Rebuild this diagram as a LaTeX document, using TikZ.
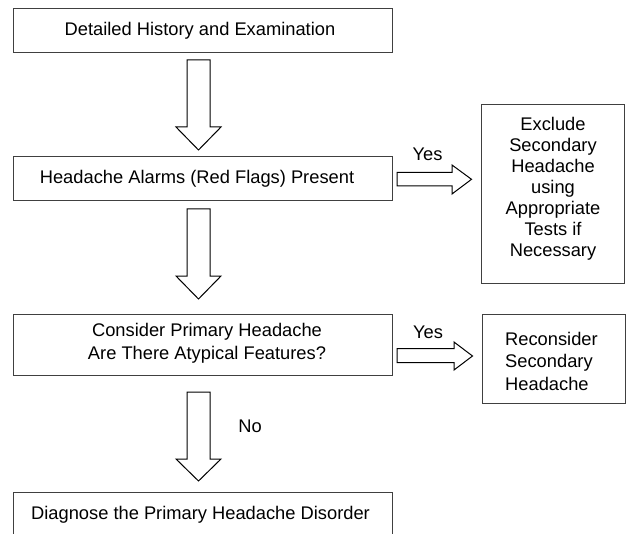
\documentclass[tikz,border=0pt]{standalone}
\usepackage{fontspec}
\setmainfont{Liberation Sans}
\begin{document}
\begin{tikzpicture}[x=1pt,y=-1pt,
  box/.style={draw=black!75,line width=1pt,rectangle,inner sep=0pt},
  txt/.style={inner sep=0pt,font=\fontsize{18.3}{21}\selectfont,align=center},
  blockarrow/.style={draw=black,line width=1pt,fill=white,line join=miter}]
\useasboundingbox (0,0) rectangle (628,534);
\clip (0,0) rectangle (628,534);
% boxes
\node[box,minimum width=378.5,minimum height=44] (b1) at (202.75,31) {};
\node[box,minimum width=378.5,minimum height=44] (b2) at (202.75,179) {};
\node[box,minimum width=143,minimum height=178] (b3) at (552.5,194) {};
\node[box,minimum width=378.5,minimum height=61] (b4) at (202.75,344.5) {};
\node[box,minimum width=143,minimum height=89] (b5) at (553.5,358.5) {};
\node[box,minimum width=378.5,minimum height=60] (b6) at (202.75,522) {};
% texts
\node[txt] (t1) at (200,31) {Detailed History and Examination};
\node[txt] (t2) at (197,179) {Headache Alarms (Red Flags) Present};
\node[txt,font=\fontsize{18.3}{21}\selectfont] (t3) at (553,189) {Exclude\\Secondary\\Headache\\using\\Appropriate\\Tests if\\Necessary};
\node[txt,font=\fontsize{18.3}{23}\selectfont] (t4) at (207,343.5) {Consider Primary Headache\\Are There Atypical Features?};
\node[txt,align=left,anchor=west,font=\fontsize{18.3}{22.5}\selectfont] (t5) at (505,361) {Reconsider\\Secondary\\Headache};
\node[txt] (t6) at (200.5,515) {Diagnose the Primary Headache Disorder};
% labels
\node[txt] (y1) at (427.5,154) {Yes};
\node[txt] (y2) at (428,332) {Yes};
\node[txt] (n1) at (250,426) {No};
% down block arrows
\draw[blockarrow] (187,60) -- (210,60) -- (210,127) -- (221,127) -- (198.5,150) -- (176,127) -- (187,127) -- cycle;
\draw[blockarrow] (187,209) -- (210,209) -- (210,276) -- (221,276) -- (198.5,299) -- (176,276) -- (187,276) -- cycle;
\draw[blockarrow] (187,392) -- (210,392) -- (210,459) -- (221,459) -- (198.5,481) -- (176,459) -- (187,459) -- cycle;
% right block arrows
\draw[blockarrow] (397,172.5) -- (452,172.5) -- (452,165) -- (471.5,179.3) -- (452,194) -- (452,186) -- (397,186) -- cycle;
\draw[blockarrow] (397,348.5) -- (454,348.5) -- (454,342) -- (472.5,356) -- (454,370) -- (454,362.5) -- (397,362.5) -- cycle;
\end{tikzpicture}
\end{document}
